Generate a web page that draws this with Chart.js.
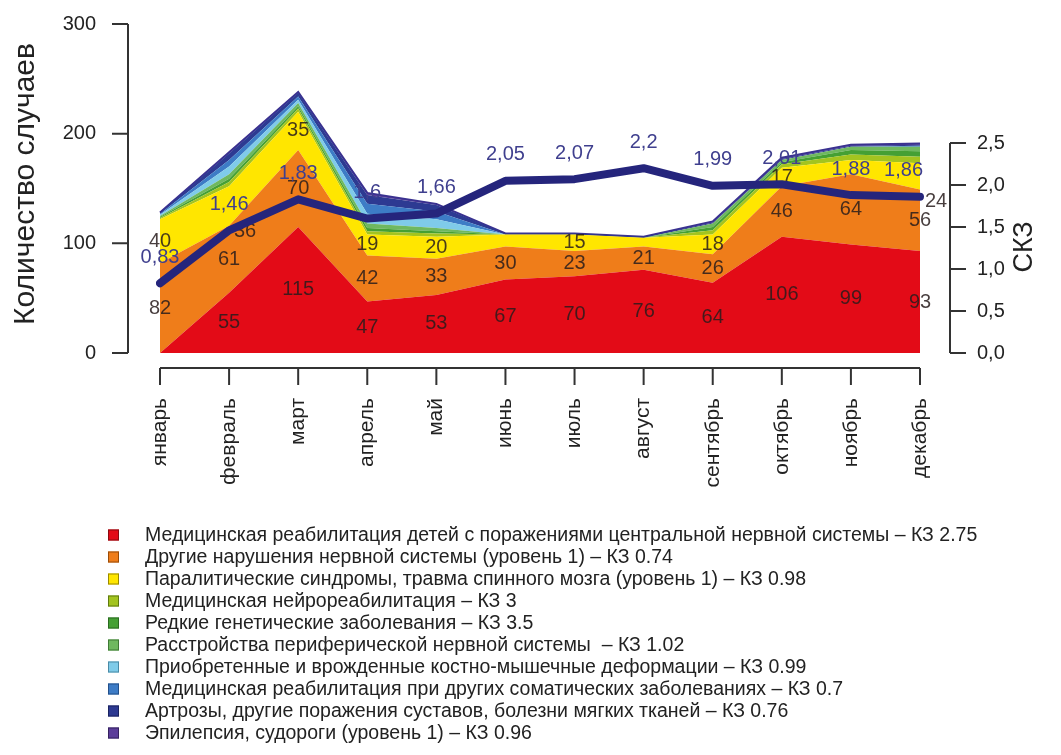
<!DOCTYPE html>
<html lang="ru">
<head>
<meta charset="utf-8">
<script src="https://cdn.jsdelivr.net/npm/chart.js@4.4.1/dist/chart.umd.min.js"></script>
<style>
  html, body { margin: 0; padding: 0; background: #ffffff; }
  #wrap { width: 1061px; height: 755px; position: relative; }
</style>
</head>
<body>
<div id="wrap"><canvas id="chart" width="1061" height="755"></canvas></div>
<script>
// Месяцы
const months = ['январь', 'февраль', 'март', 'апрель', 'май', 'июнь',
                'июль', 'август', 'сентябрь', 'октябрь', 'ноябрь', 'декабрь'];

// Количество случаев по профилям (накопленные области, снизу вверх)
const childrenCNS   = [0, 55, 115, 47, 53, 67, 70, 76, 64, 106, 99, 93];
const otherNervous  = [82, 61, 70, 42, 33, 30, 23, 21, 26, 46, 64, 56];
const paralytic     = [40, 36, 35, 19, 20, 11, 15, 8, 18, 17, 13, 24];
const neuroRehab    = [1, 4, 3, 3, 3, 0, 0, 0, 4, 3, 5, 6];
const rareGenetic   = [1, 3, 2, 3, 2, 0, 0, 0, 3, 2, 4, 5];
const peripheral    = [1, 4, 3, 4, 3, 0, 0, 0, 3, 2, 3, 4];
const deformities   = [1, 7, 3, 9, 8, 0, 0, 0, 0, 0, 0, 0];
const somatic       = [1, 6, 3, 9, 7, 0, 0, 0, 0, 0, 0, 1];
const arthrosis     = [1, 6, 3, 8, 6, 1, 1, 1, 1, 1, 1, 1];
const epilepsy      = [0, 1, 1, 2, 1, 0, 0, 0, 1, 1, 1, 1];

// Средний коэффициент затратоёмкости (СКЗ), правая ось
const skz = [0.83, 1.46, 1.83, 1.6, 1.66, 2.05, 2.07, 2.2, 1.99, 2.01, 1.88, 1.86];

// Деления осей
const leftTicks = [0, 100, 200, 300];
const rightTicks = [0, 0.5, 1, 1.5, 2, 2.5];
const rightTickLabels = ['0,0', '0,5', '1,0', '1,5', '2,0', '2,5'];

// Подписи легенды
const legendLabels = [
  'Медицинская реабилитация детей с поражениями центральной нервной системы – КЗ 2.75',
  'Другие нарушения нервной системы (уровень 1) – КЗ 0.74',
  'Паралитические синдромы, травма спинного мозга (уровень 1) – КЗ 0.98',
  'Медицинская нейрореабилитация – КЗ 3',
  'Редкие генетические заболевания – КЗ 3.5',
  'Расстройства периферической нервной системы  – КЗ 1.02',
  'Приобретенные и врожденные костно-мышечные деформации – КЗ 0.99',
  'Медицинская реабилитация при других соматических заболеваниях – КЗ 0.7',
  'Артрозы, другие поражения суставов, болезни мягких тканей – КЗ 0.76',
  'Эпилепсия, судороги (уровень 1) – КЗ 0.96'
];

const areaSeries = [childrenCNS, otherNervous, paralytic, neuroRehab, rareGenetic,
                    peripheral, deformities, somatic, arthrosis, epilepsy];
const areaColors = ['#e30b17', '#ef7d1a', '#ffe600', '#a3c41f', '#45a034',
                    '#6fb85f', '#7fcbe9', '#3d7cc6', '#2d3a92', '#5b3d9a'];
const legendBorders = ['#8a0a10', '#9a4c08', '#9a8a00', '#5f7a10', '#2a6a20',
                       '#3f7a35', '#4a8aa5', '#23508a', '#1a2360', '#35225f'];

const FONT = '"Liberation Sans", Arial, sans-serif';
const LINE_COLOR = '#25257c';
const LINE_LABEL_COLOR = '#3f3f8e';
const AXIS_COLOR = '#333333';

function drawText(ctx, s, x, y, o) {
  ctx.save();
  ctx.font = (o.size || 20) + 'px ' + FONT;
  ctx.fillStyle = o.color || '#222';
  ctx.textAlign = o.align || 'center';
  ctx.textBaseline = o.base || 'middle';
  ctx.translate(x, y);
  if (o.rot) ctx.rotate(o.rot);
  ctx.fillText(s, 0, 0);
  ctx.restore();
}

const fmt = v => String(v).replace('.', ',');

const datasets = areaSeries.map((data, k) => ({
  label: legendLabels[k],
  data: data,
  yAxisID: 'y',
  backgroundColor: areaColors[k],
  borderColor: k === areaSeries.length - 1 ? '#3a3190' : 'transparent',
  borderWidth: k === areaSeries.length - 1 ? 2 : 0,
  pointRadius: 0,
  tension: 0,
  fill: k === 0 ? 'origin' : '-1',
  order: 1
}));
datasets.push({
  label: 'СКЗ',
  data: skz,
  yAxisID: 'y2',
  borderColor: LINE_COLOR,
  borderWidth: 8,
  borderJoinStyle: 'round',
  borderCapStyle: 'round',
  pointRadius: 0,
  tension: 0,
  fill: false,
  order: 0
});
const LINE_INDEX = datasets.length - 1;

// Подписи значений СКЗ над линией (позиции, чтобы избегать наложений)
function lineLabelBoxes(chart) {
  const ctx = chart.ctx;
  const xs = chart.scales.x, y2 = chart.scales.y2, area = chart.chartArea;
  ctx.save();
  ctx.font = '20px ' + FONT;
  const boxes = skz.map((v, i) => {
    const s = fmt(v);
    const w = ctx.measureText(s).width;
    let x = xs.getPixelForValue(i);
    const y = y2.getPixelForValue(v) - 26;
    if (x + w / 2 > area.right + 3) x = area.right + 3 - w / 2;
    return { s, x, y, w };
  });
  ctx.restore();
  return boxes;
}

const axesPlugin = {
  id: 'rAxes',
  afterDraw(chart) {
    const ctx = chart.ctx;
    const area = chart.chartArea;
    const ys = chart.scales.y, y2 = chart.scales.y2, xs = chart.scales.x;
    ctx.save();
    ctx.strokeStyle = AXIS_COLOR;
    ctx.lineWidth = 2;
    ctx.lineCap = 'butt';

    // левая ось
    const lx = area.left - 32;
    ctx.beginPath();
    ctx.moveTo(lx, ys.getPixelForValue(leftTicks[0]));
    ctx.lineTo(lx, ys.getPixelForValue(leftTicks[leftTicks.length - 1]));
    leftTicks.forEach(t => {
      const py = ys.getPixelForValue(t);
      ctx.moveTo(lx - 16, py); ctx.lineTo(lx, py);
    });
    ctx.stroke();
    leftTicks.forEach(t => drawText(ctx, String(t), lx - 32, ys.getPixelForValue(t),
      { size: 20, align: 'right', color: '#222' }));

    // правая ось
    const rx = area.right + 30;
    ctx.beginPath();
    ctx.moveTo(rx, y2.getPixelForValue(rightTicks[0]));
    ctx.lineTo(rx, y2.getPixelForValue(rightTicks[rightTicks.length - 1]));
    rightTicks.forEach(t => {
      const py = y2.getPixelForValue(t);
      ctx.moveTo(rx, py); ctx.lineTo(rx + 16, py);
    });
    ctx.stroke();
    rightTicks.forEach((t, i) => drawText(ctx, rightTickLabels[i], rx + 27, y2.getPixelForValue(t),
      { size: 20, align: 'left', color: '#222' }));

    // ось X
    const by = area.bottom + 15;
    ctx.beginPath();
    ctx.moveTo(xs.getPixelForValue(0), by);
    ctx.lineTo(xs.getPixelForValue(months.length - 1), by);
    months.forEach((m, i) => {
      const px = xs.getPixelForValue(i);
      ctx.moveTo(px, by); ctx.lineTo(px, by + 17);
    });
    ctx.stroke();
    months.forEach((m, i) => drawText(ctx, m, xs.getPixelForValue(i), by + 30,
      { size: 21, align: 'right', rot: -Math.PI / 2, color: '#222' }));

    // заголовки осей
    drawText(ctx, 'Количество случаев', 26, 184, { size: 30, rot: -Math.PI / 2, color: '#222' });
    drawText(ctx, 'СКЗ', 1025, 247, { size: 27, rot: -Math.PI / 2, color: '#222' });

    // легенда
    legendLabels.forEach((s, i) => {
      const cy = 535 + i * 22;
      ctx.fillStyle = areaColors[i];
      ctx.fillRect(108, cy - 5.5, 11, 11);
      ctx.strokeStyle = legendBorders[i];
      ctx.lineWidth = 1;
      ctx.strokeRect(108.5, cy - 5, 10, 10);
      drawText(ctx, s, 145, cy + 1, { size: 19.5, align: 'left', color: '#222' });
    });
    ctx.restore();
  }
};

const labelsPlugin = {
  id: 'valueLabels',
  beforeDatasetDraw(chart, args) {
    if (args.index !== LINE_INDEX) return;
    // подписи числа случаев в центре полос трёх нижних областей
    const ctx = chart.ctx;
    const xs = chart.scales.x, ys = chart.scales.y;
    const boxes = lineLabelBoxes(chart);
    const labelled = [childrenCNS, otherNervous, paralytic];
    for (let i = 0; i < months.length; i++) {
      let base = 0;
      labelled.forEach(series => {
        const v = series[i];
        if (v >= 15) {
          let x = xs.getPixelForValue(i);
          let y = ys.getPixelForValue(base + v / 2);
          const hit = boxes.some(b => Math.abs(b.x - x) < b.w / 2 + 10 && Math.abs(b.y - y) < 12);
          if (hit) { x += 16; y += 25; }
          drawText(ctx, String(v), x, y, { size: 20, color: 'rgba(40,28,28,0.85)' });
        }
        base += v;
      });
    }
  },
  afterDatasetsDraw(chart) {
    const ctx = chart.ctx;
    lineLabelBoxes(chart).forEach(b =>
      drawText(ctx, b.s, b.x, b.y, { size: 20, color: LINE_LABEL_COLOR }));
  }
};

new Chart(document.getElementById('chart'), {
  type: 'line',
  data: { labels: months, datasets: datasets },
  options: {
    responsive: false,
    animation: false,
    events: [],
    layout: { padding: { left: 160, right: 141, top: 24, bottom: 402 } },
    plugins: { legend: { display: false }, tooltip: { enabled: false } },
    scales: {
      x: { type: 'category', display: false, offset: false },
      y: { stacked: true, display: false, min: 0, max: 300 },
      y2: { display: false, min: 0, max: 3.917, position: 'right' }
    }
  },
  plugins: [axesPlugin, labelsPlugin]
});
</script>
</body>
</html>
